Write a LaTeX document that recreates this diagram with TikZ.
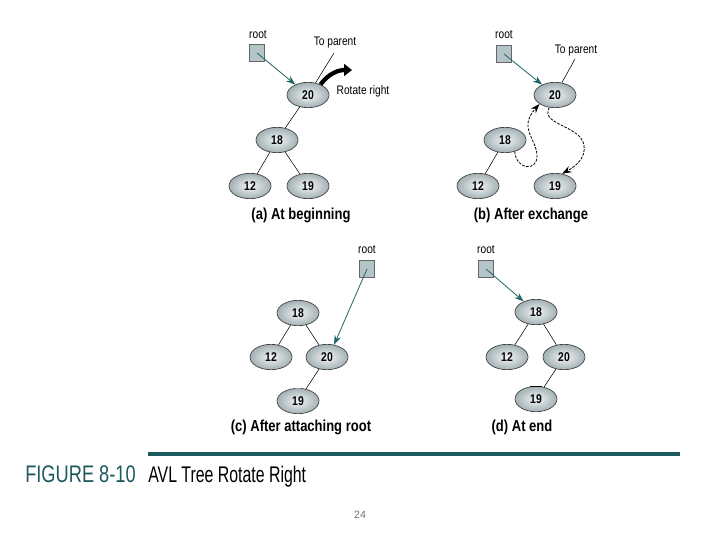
\documentclass[tikz,border=0pt]{standalone}
\usepackage{fontspec}
\setmainfont{Liberation Sans}
\newfontfamily\condfont[FakeStretch=0.82]{Liberation Sans}
\newfontfamily\titlefont[FakeStretch=0.70]{Liberation Sans}
\newfontfamily\figfont[FakeStretch=0.76]{Liberation Sans}
\usetikzlibrary{arrows.meta,shapes.geometric}
\definecolor{teal1}{HTML}{1E6666}
\definecolor{nodefill}{HTML}{B4C4C8}
\definecolor{figteal}{HTML}{1C5A5E}
\tikzset{
  tn/.style={ellipse,draw=black!75,line width=0.5pt,inner color=white!85!nodefill,outer color=nodefill!90!black,
    minimum width=31.5pt,minimum height=19pt,inner sep=0pt,font=\condfont\bfseries\fontsize{9.5}{10}\selectfont},
  rootbox/.style={rectangle,draw=black!60,fill=nodefill,minimum width=11pt,minimum height=13pt,inner sep=0pt},
  lbl/.style={font=\condfont\fontsize{9.3}{10}\selectfont},
  captext/.style={font=\condfont\bfseries\fontsize{11.9}{13}\selectfont},
  edge/.style={draw=black,line width=0.4pt},
  rootarrow/.style={draw=teal1,line width=0.6pt,-{Stealth[length=7pt,width=5pt]}},
  dasharrow/.style={draw=black,line width=0.6pt,dash pattern=on 2pt off 1pt,-{Stealth[length=7pt,width=5pt]}}
}
\begin{document}
\begin{tikzpicture}[x=0.75pt,y=-0.75pt]
\useasboundingbox (0,0) rectangle (720,540);
% (a)
\node[rootbox] (ra) at (257,53) {};
\node[lbl] (rla) at (258,35) {root};
\node[tn] (a20) at (308,95) {20};
\node[tn] (a18) at (277,140) {18};
\node[tn] (a12) at (250,186) {12};
\node[tn] (a19) at (308,186) {19};
\coordinate (tpa) at (334,53);
\node[lbl] (tpla) at (335,43) {To parent};
\node[lbl,anchor=west] (rra) at (332,91) {Rotate right};
\draw[edge] (a20) -- (tpa);
\draw[edge] (a20) -- (a18);
\draw[edge] (a18) -- (a12);
\draw[edge] (a18) -- (a19);
\draw[rootarrow] (ra.center) -- (a20);
\draw[line width=3.2pt,-{Triangle[length=6pt,width=9pt]}] (a20.40) .. controls (328,74) and (338,70) .. (352,70);
\node[captext] (capa) at (301,215) {(a) At beginning};
% (b)
\node[rootbox] (rb) at (504,54) {};
\node[lbl] (rlb) at (504,35) {root};
\node[tn] (b20) at (555,95) {20};
\node[tn] (b18) at (505,140) {18};
\node[tn] (b12) at (478,186) {12};
\node[tn] (b19) at (555,186) {19};
\coordinate (tpb) at (575,59);
\node[lbl] (tplb) at (576,51) {To parent};
\draw[edge] (b20) -- (tpb);
\draw[edge] (b18) -- (b12);
\draw[rootarrow] (rb.center) -- (b20);
\draw[dasharrow] (b18.-50) .. controls (516,170) and (538,172) .. (537,155) .. controls (536,138) and (518,128) .. (b20.-150);
\draw[dasharrow] (b20.-115) .. controls (540,125) and (580,125) .. (584,145) .. controls (586,158) and (576,166) .. (b19.60);
\node[captext] (capb) at (531,215) {(b) After exchange};
% (c)
\node[rootbox] (rc) at (367,269) {};
\node[lbl] (rlc) at (367,250) {root};
\node[tn] (c18) at (298,313) {18};
\node[tn] (c12) at (271,357) {12};
\node[tn] (c20) at (327,357) {20};
\node[tn] (c19) at (298,401) {19};
\draw[edge] (c18) -- (c12);
\draw[edge] (c18) -- (c20);
\draw[edge] (c20) -- (c19);
\draw[rootarrow] (rc.center) -- (c20.60);
\draw[black!40,line width=1.2pt] (295,388.5) -- (301,388.5);
\node[captext] (capc) at (301,427) {(c) After attaching root};
% (d)
\node[rootbox] (rd) at (486,269) {};
\node[lbl] (rld) at (486,250) {root};
\node[tn] (d18) at (536,312) {18};
\node[tn] (d12) at (507,357) {12};
\node[tn] (d20) at (564,357) {20};
\node[tn] (d19) at (536,399) {19};
\draw[edge] (d18) -- (d12);
\draw[edge] (d18) -- (d20);
\draw[edge] (d20) -- (d19);
\draw[rootarrow] (rd.center) -- (d18);
\draw[black,line width=1.2pt] (530,386.5) -- (542,386.5);
\node[captext] (capd) at (522,427) {(d) At end};
% footer
\draw[figteal,line width=2.4pt] (148,454) -- (680,454);
\node[anchor=base west,text=figteal,font=\figfont\fontsize{18}{19}\selectfont,inner sep=0pt] (fig) at (25,482) {FIGURE 8-10};
\node[anchor=base west,font=\titlefont\fontsize{17}{19}\selectfont,inner sep=0pt] (title) at (148,482) {AVL Tree Rotate Right};
\node[text=black!55,font=\fontsize{8}{9}\selectfont] (pg) at (360,515) {24};
\end{tikzpicture}
\end{document}
